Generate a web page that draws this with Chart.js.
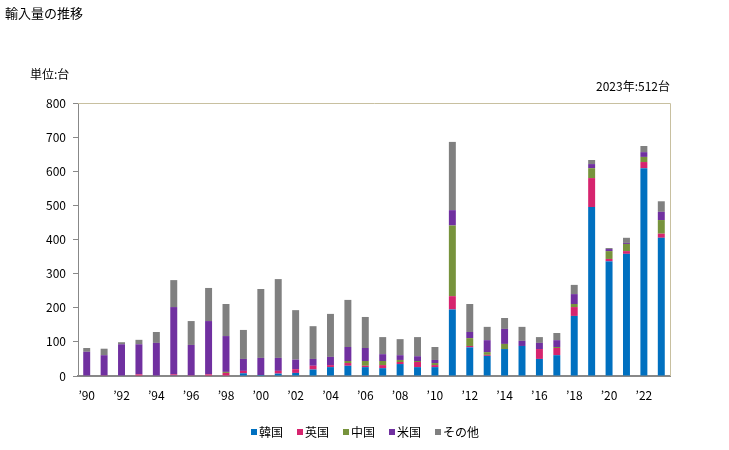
<!DOCTYPE html>
<html>
<head>
<meta charset="utf-8">
<script src="https://cdn.jsdelivr.net/npm/chart.js@4"></script>
<style>
  html, body { margin: 0; padding: 0; background: #fff; }
  #wrap { width: 729px; height: 450px; position: relative; }
</style>
</head>
<body>
<div id="wrap"><canvas id="barChart" width="729" height="450"></canvas></div>
<script>
// 年 (1990-2023)
const years = ['90','91','92','93','94','95','96','97','98','99',
    '00','01','02','03','04','05','06','07','08','09',
    '10','11','12','13','14','15','16','17','18','19',
    '20','21','22','23'];

// 輸入量 (単位:台)
const korea = [0,0,0,0,0,2,0,0,0,8,
    3,7,9,19,26,30,26,23,35,26,
    26,195,84,59,79,88,50,61,176,495,
    336,358,609,405];
const uk = [0,2,0,5,0,3,2,5,9,7,
    0,8,11,11,6,8,4,9,6,15,
    6,39,4,3,0,0,29,21,26,85,
    7,8,18,12];
const china = [0,0,0,0,0,0,0,0,3,0,
    0,0,0,0,0,6,14,12,6,3,
    6,207,23,8,15,0,0,3,9,29,
    23,21,15,40];
const usa = [71,59,93,88,97,197,89,156,105,35,
    50,38,28,20,24,41,38,20,14,14,
    9,45,18,35,44,15,18,20,29,12,
    6,3,14,24];
const others = [11,19,6,13,32,79,70,97,94,85,
    202,231,145,96,126,138,91,50,47,56,
    38,200,82,39,32,41,17,21,27,12,
    3,15,18,31];

const yTicks = [0, 100, 200, 300, 400, 500, 600, 700, 800];

const seriesNames = ['韓国', '英国', '中国', '米国', 'その他'];
const seriesColors = ['#0070c0', '#d6246e', '#77933c', '#7030a0', '#808080'];

const font = '"Noto Sans CJK JP", "Noto Sans", sans-serif';

// タイトル、単位、凡例
const extraText = {
    id: 'extraText',
    afterDraw(chart) {
        const ctx = chart.ctx;
        const area = chart.chartArea;
        ctx.save();
        // 上と右の枠
        ctx.strokeStyle = '#c8c0a0';
        ctx.lineWidth = 1;
        ctx.beginPath();
        ctx.moveTo(area.left, area.top + 0.5);
        ctx.lineTo(area.right + 0.5, area.top + 0.5);
        ctx.lineTo(area.right + 0.5, area.bottom);
        ctx.stroke();

        ctx.fillStyle = '#000';
        ctx.textBaseline = 'middle';
        ctx.font = '13px ' + font;
        ctx.textAlign = 'left';
        ctx.fillText('輸入量の推移', 5, 13);
        ctx.font = '12px ' + font;
        ctx.fillText('単位:台', 30, 74);
        ctx.textAlign = 'right';
        ctx.fillText('2023年:512台', area.right, 86);

        // 凡例
        ctx.font = '12px ' + font;
        ctx.textAlign = 'left';
        const box = 6, gap = 2, spacing = 14;
        const widths = seriesNames.map(n => box + gap + ctx.measureText(n).width);
        const total = widths.reduce((a, b) => a + b, 0) + spacing * (seriesNames.length - 1);
        let x = 365 - total / 2;
        const y = 432;
        seriesNames.forEach((n, i) => {
            ctx.fillStyle = seriesColors[i];
            ctx.fillRect(x, y - box / 2, box, box);
            ctx.fillStyle = '#000';
            ctx.fillText(n, x + box + gap, y);
            x += widths[i] + spacing;
        });
        ctx.restore();
    }
};

const seriesData = [korea, uk, china, usa, others];

new Chart(document.getElementById('barChart').getContext('2d'), {
    type: 'bar',
    data: {
        labels: years,
        datasets: seriesNames.map((name, i) => ({
            label: name,
            data: seriesData[i],
            backgroundColor: seriesColors[i],
            barPercentage: 0.4,
            categoryPercentage: 1.0
        }))
    },
    options: {
        responsive: false,
        animation: false,
        layout: { padding: { left: 0, top: 103, right: 59, bottom: 0 } },
        plugins: {
            legend: { display: false },
            tooltip: { enabled: false }
        },
        scales: {
            x: {
                stacked: true,
                grid: { display: false },
                border: { color: '#888888', width: 2 },
                ticks: {
                    color: '#000',
                    font: { family: font, size: 12 },
                    maxRotation: 0,
                    autoSkip: false,
                    padding: 4,
                    callback: (v, i) => (i % 2 === 0 ? '\u2019' + years[i] : '')
                },
                afterFit: s => { s.height = 450 - 103 - 273 - 0; }
            },
            y: {
                stacked: true,
                min: 0,
                max: 800,
                afterBuildTicks: s => { s.ticks = yTicks.map(v => ({ value: v })); },
                grid: { drawOnChartArea: false, color: '#888888', tickLength: 5 },
                border: { color: '#888888', width: 1 },
                ticks: {
                    color: '#000',
                    font: { family: font, size: 12 },
                    padding: 7
                },
                afterFit: s => { s.width = 78; }
            }
        }
    },
    plugins: [extraText]
});
</script>
</body>
</html>
